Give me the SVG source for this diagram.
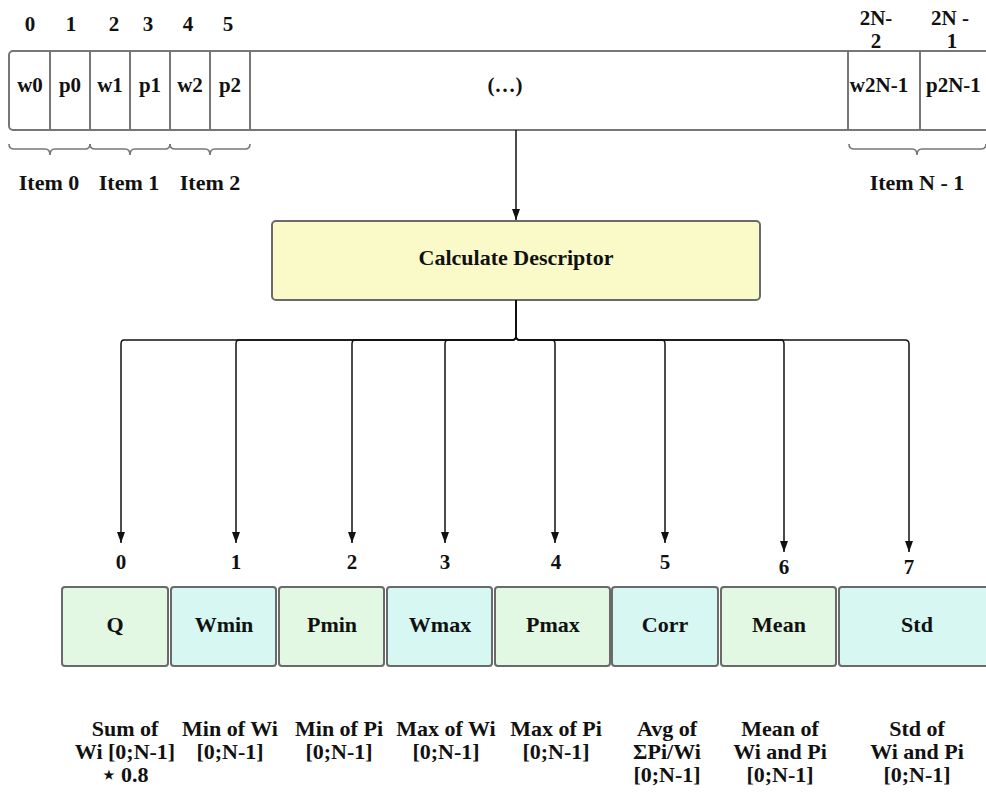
<svg xmlns="http://www.w3.org/2000/svg" width="986" height="792" viewBox="0 0 986 792">
  <style>
    text { font-family: "Liberation Serif", "DejaVu Serif", serif; font-weight: bold; fill: #111; text-anchor: middle; }
    .lbl { font-size: 22px; }
    .sm { font-size: 21px; }
    .num { font-size: 21px; }
    .cell { fill: #fff; stroke: #777; stroke-width: 2; }
    .div { stroke: #777; stroke-width: 2; }
    .brace { fill: none; stroke: #777; stroke-width: 1.6; }
    .wire { fill: none; stroke: #111; stroke-width: 1.5; }
    .green { fill: #e2f8e2; stroke: #6a6a6a; stroke-width: 2; }
    .cyan { fill: #d6f7f2; stroke: #6a6a6a; stroke-width: 2; }
    .desc { fill: #fafac8; stroke: #6a6a6a; stroke-width: 2; }
  </style>
  <defs>
    <marker id="arrowhead" viewBox="0 0 11 8" refX="11" refY="4" markerWidth="11" markerHeight="8" orient="auto" markerUnits="userSpaceOnUse">
      <path d="M0,0 L11,4 L0,8 Z" fill="#111"/>
    </marker>
  </defs>

  <!-- input array of weights and profits -->
  <g id="input-array">
    <rect class="cell" x="9" y="51" width="1000" height="79" rx="4"/>
    <line class="div" x1="50" y1="51" x2="50" y2="130"/>
    <line class="div" x1="90" y1="51" x2="90" y2="130"/>
    <line class="div" x1="130" y1="51" x2="130" y2="130"/>
    <line class="div" x1="170" y1="51" x2="170" y2="130"/>
    <line class="div" x1="210" y1="51" x2="210" y2="130"/>
    <line class="div" x1="250" y1="51" x2="250" y2="130"/>
    <line class="div" x1="848" y1="51" x2="848" y2="130"/>
    <line class="div" x1="920" y1="51" x2="920" y2="130"/>

    <text class="sm" x="30" y="92">w0</text>
    <text class="sm" x="70" y="92">p0</text>
    <text class="sm" x="110" y="92">w1</text>
    <text class="sm" x="150" y="92">p1</text>
    <text class="sm" x="190" y="92">w2</text>
    <text class="sm" x="230" y="92">p2</text>
    <text class="sm" x="505" y="92">(…)</text>
    <text class="sm" x="879" y="92">w2N-1</text>
    <text class="sm" x="926" y="92" style="text-anchor:start">p2N-1</text>

    <text class="num" x="30" y="31">0</text>
    <text class="num" x="71" y="31">1</text>
    <text class="num" x="114" y="31">2</text>
    <text class="num" x="148" y="31">3</text>
    <text class="num" x="188" y="31">4</text>
    <text class="num" x="228" y="31">5</text>
    <text class="num" x="876" y="25">2N-</text>
    <text class="num" x="876" y="48">2</text>
    <text class="num" x="950" y="25">2N -</text>
    <text class="num" x="952" y="48">1</text>

    <path class="brace" d="M9,144 Q9,149 14,149 H45 Q50,149 50,155 Q50,149 55,149 H85 Q90,149 90,144"/>
    <path class="brace" d="M90,144 Q90,149 95,149 H125 Q130,149 130,155 Q130,149 135,149 H165 Q170,149 170,144"/>
    <path class="brace" d="M170,144 Q170,149 175,149 H205 Q210,149 210,155 Q210,149 215,149 H245 Q250,149 250,144"/>
    <path class="brace" d="M849,144 Q849,149 854,149 H912 Q917,149 917,155 Q917,149 922,149 H981 Q986,149 986,144"/>

    <text class="lbl" x="49" y="190">Item 0</text>
    <text class="lbl" x="129" y="190">Item 1</text>
    <text class="lbl" x="210" y="190">Item 2</text>
    <text class="lbl" x="917" y="190">Item N - 1</text>
  </g>

  <!-- descriptor calculation step -->
  <g id="calc">
    <rect class="desc" x="272" y="221" width="488" height="79" rx="4"/>
    <text class="lbl" x="516" y="265">Calculate Descriptor</text>
  </g>

  <!-- descriptor slots -->
  <g id="slot-0">
    <rect class="green" x="62" y="587" width="106" height="79" rx="3"/>
    <text class="lbl" x="115" y="632">Q</text>
  </g>
  <g id="slot-1">
    <rect class="cyan" x="171" y="587" width="105" height="79" rx="3"/>
    <text class="lbl" x="224" y="632">Wmin</text>
  </g>
  <g id="slot-2">
    <rect class="green" x="279" y="587" width="105" height="79" rx="3"/>
    <text class="lbl" x="332" y="632">Pmin</text>
  </g>
  <g id="slot-3">
    <rect class="cyan" x="387" y="587" width="105" height="79" rx="3"/>
    <text class="lbl" x="440" y="632">Wmax</text>
  </g>
  <g id="slot-4">
    <rect class="green" x="495" y="587" width="115" height="79" rx="3"/>
    <text class="lbl" x="553" y="632">Pmax</text>
  </g>
  <g id="slot-5">
    <rect class="cyan" x="612" y="587" width="106" height="79" rx="3"/>
    <text class="lbl" x="665" y="632">Corr</text>
  </g>
  <g id="slot-6">
    <rect class="green" x="721" y="587" width="115" height="79" rx="3"/>
    <text class="lbl" x="779" y="632">Mean</text>
  </g>
  <g id="slot-7">
    <rect class="cyan" x="839" y="587" width="160" height="79" rx="3"/>
    <text class="lbl" x="917" y="632">Std</text>
  </g>

  <!-- slot indices -->
  <g id="indices">
    <text class="num" x="121" y="569">0</text>
    <text class="num" x="236" y="569">1</text>
    <text class="num" x="352" y="569">2</text>
    <text class="num" x="445" y="569">3</text>
    <text class="num" x="556" y="569">4</text>
    <text class="num" x="665" y="569">5</text>
    <text class="num" x="784" y="574">6</text>
    <text class="num" x="909" y="574">7</text>
  </g>

  <!-- slot descriptions -->
  <g id="descriptions">
    <text class="lbl" x="125" y="736">Sum of</text>
    <text class="lbl" x="125" y="759">Wi [0;N-1]</text>
    <text class="lbl" x="125" y="782">⋆ 0.8</text>
    <text class="lbl" x="230" y="736">Min of Wi</text>
    <text class="lbl" x="230" y="759">[0;N-1]</text>
    <text class="lbl" x="339" y="736">Min of Pi</text>
    <text class="lbl" x="339" y="759">[0;N-1]</text>
    <text class="lbl" x="446" y="736">Max of Wi</text>
    <text class="lbl" x="446" y="759">[0;N-1]</text>
    <text class="lbl" x="556" y="736">Max of Pi</text>
    <text class="lbl" x="556" y="759">[0;N-1]</text>
    <text class="lbl" x="667" y="736">Avg of</text>
    <text class="lbl" x="667" y="759">ΣPi/Wi</text>
    <text class="lbl" x="667" y="782">[0;N-1]</text>
    <text class="lbl" x="780" y="736">Mean of</text>
    <text class="lbl" x="780" y="759">Wi and Pi</text>
    <text class="lbl" x="780" y="782">[0;N-1]</text>
    <text class="lbl" x="917" y="736">Std of</text>
    <text class="lbl" x="917" y="759">Wi and Pi</text>
    <text class="lbl" x="917" y="782">[0;N-1]</text>
  </g>

  <!-- connectors -->
  <g id="connectors">
    <path class="wire" d="M516,130 V220" marker-end="url(#arrowhead)"/>
    <path class="wire" d="M516,300 V336 Q516,340 512,340 H124 Q121,340 121,344 V543" marker-end="url(#arrowhead)"/>
    <path class="wire" d="M516,300 V336 Q516,340 512,340 H239 Q236,340 236,344 V543" marker-end="url(#arrowhead)"/>
    <path class="wire" d="M516,300 V336 Q516,340 512,340 H355 Q352,340 352,344 V543" marker-end="url(#arrowhead)"/>
    <path class="wire" d="M516,300 V336 Q516,340 512,340 H448 Q445,340 445,344 V543" marker-end="url(#arrowhead)"/>
    <path class="wire" d="M516,300 V336 Q516,340 520,340 H552 Q555,340 555,344 V543" marker-end="url(#arrowhead)"/>
    <path class="wire" d="M516,300 V336 Q516,340 520,340 H662 Q665,340 665,344 V543" marker-end="url(#arrowhead)"/>
    <path class="wire" d="M516,300 V336 Q516,340 520,340 H781 Q784,340 784,344 V552" marker-end="url(#arrowhead)"/>
    <path class="wire" d="M516,300 V336 Q516,340 520,340 H905 Q909,340 909,344 V552" marker-end="url(#arrowhead)"/>
  </g>
</svg>
